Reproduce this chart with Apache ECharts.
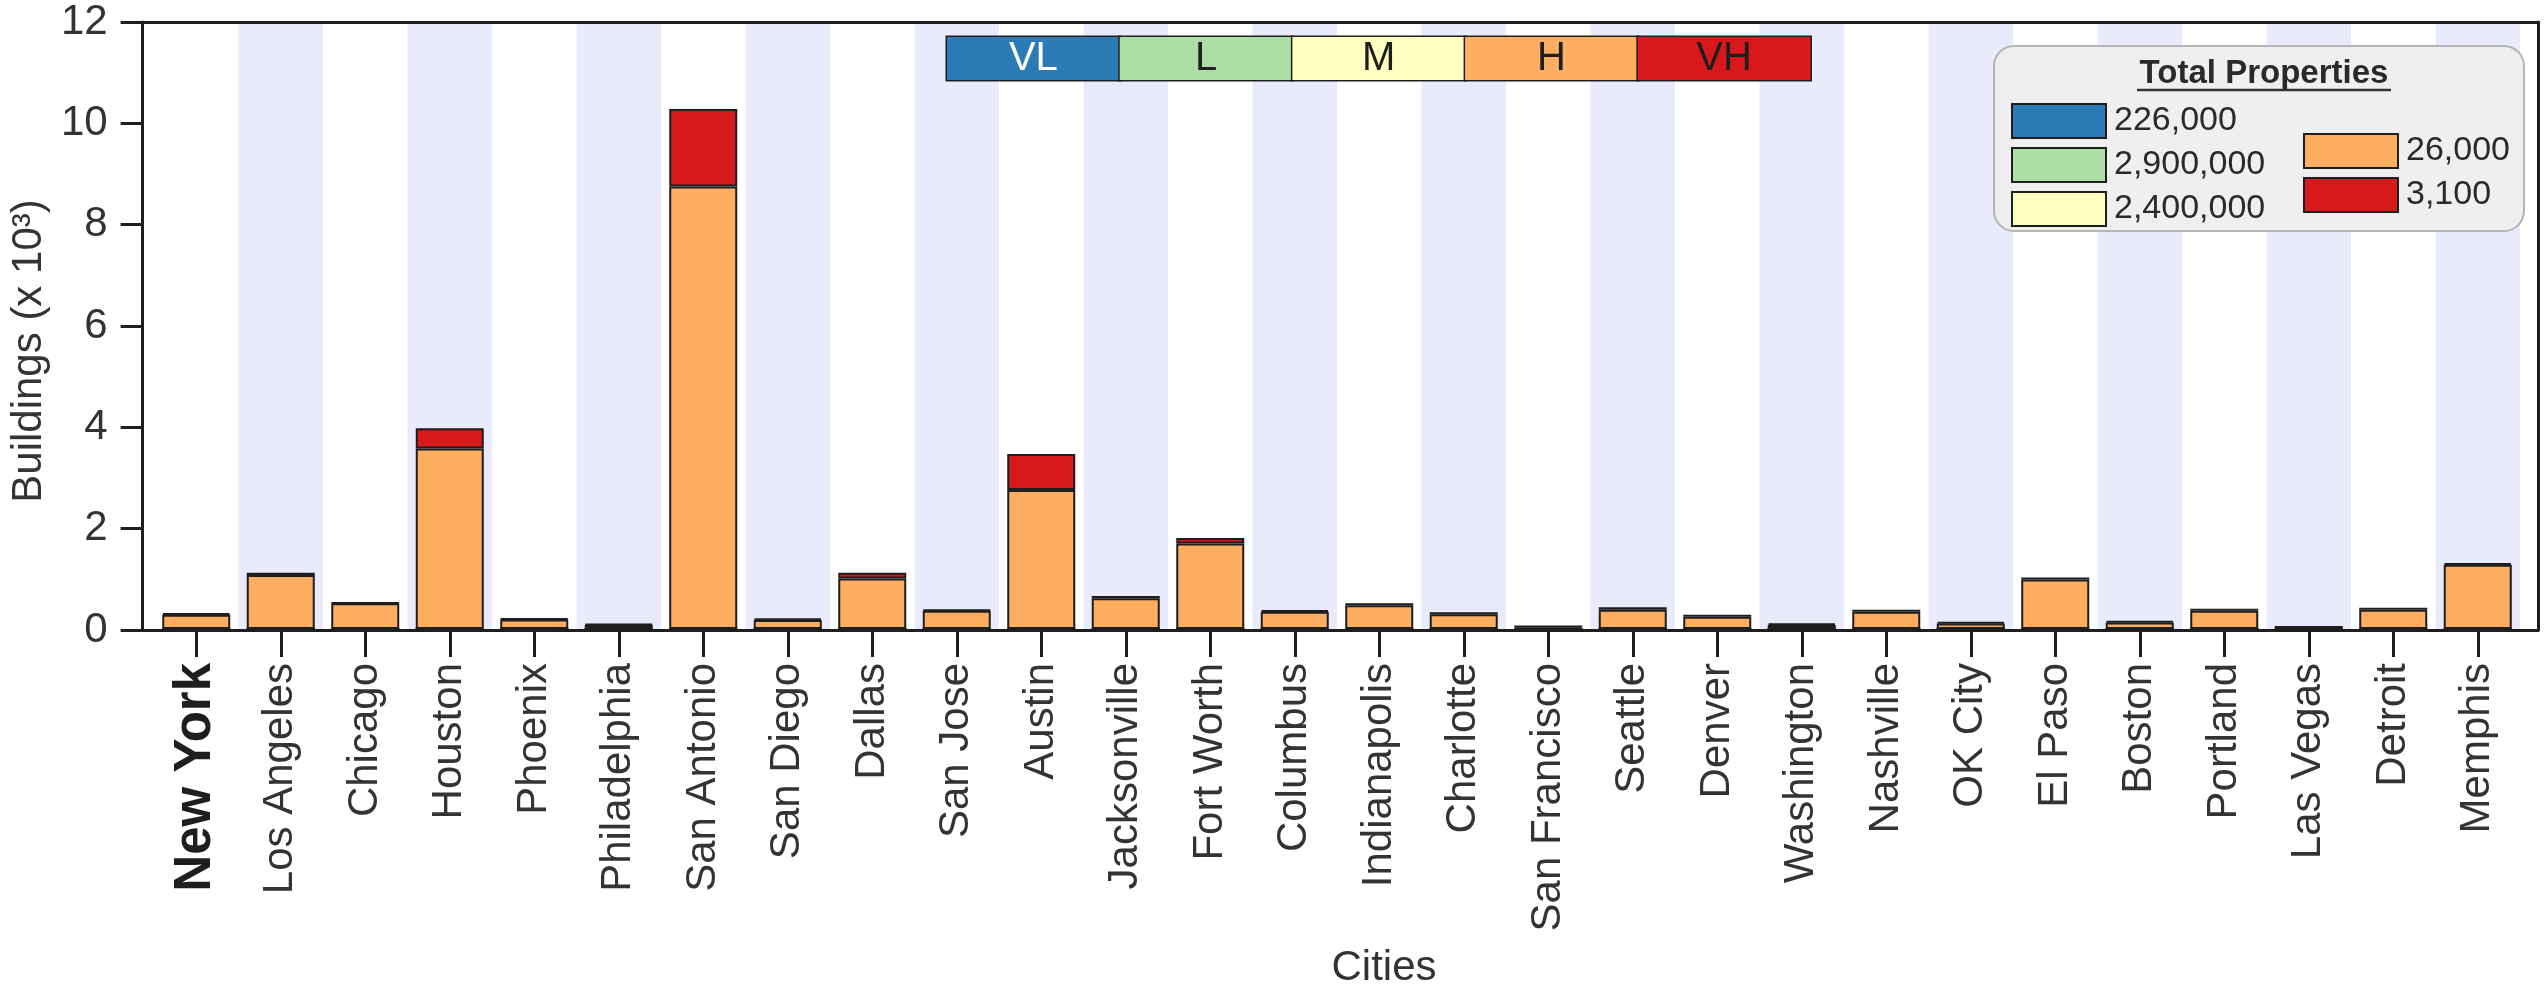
<!DOCTYPE html>
<html><head><meta charset="utf-8">
<script src="https://cdn.jsdelivr.net/npm/echarts@6/dist/echarts.min.js"></script>
<style>html,body{margin:0;padding:0;background:#fff}#c{width:2547px;height:994px}</style>
</head><body><div id="c"></div>
<script>
const cities = ['New York','Los Angeles','Chicago','Houston','Phoenix','Philadelphia','San Antonio','San Diego','Dallas','San Jose','Austin','Jacksonville','Fort Worth','Columbus','Indianapolis','Charlotte','San Francisco','Seattle','Denver','Washington','Nashville','OK City','El Paso','Boston','Portland','Las Vegas','Detroit','Memphis'];
const levels = ['VL','L','M','H','VH'];
const levelColors = ['#2c7bb6','#abdda4','#ffffbf','#fdae61','#d7191c'];
const levelTextColors = ['#ffffff','#1e1e1e','#1e1e1e','#1e1e1e','#1e1e1e'];
const totalProperties = ['226,000','2,900,000','2,400,000','26,000','3,100'];
// Buildings (x 10^3)
const valuesVL = [0,0,0,0,0,0,0,0,0,0,0,0,0,0,0,0,0,0,0,0,0,0,0,0,0,0,0,0];
const valuesL  = [0,0,0,0,0,0,0,0,0,0,0,0,0,0,0,0,0,0,0,0,0,0,0,0,0,0,0,0];
const valuesM  = [0,0,0,0,0,0,0,0,0,0,0,0,0,0,0,0,0,0,0,0,0,0,0,0,0,0,0,0];
const valuesH  = [0.28,1.07,0.51,3.57,0.19,0.08,8.75,0.18,1.00,0.36,2.75,0.61,1.69,0.34,0.47,0.29,0.03,0.38,0.24,0.08,0.34,0.11,0.98,0.13,0.36,0.02,0.38,1.27];
const valuesVH = [0.03,0.04,0.01,0.40,0.02,0.02,1.53,0.03,0.11,0.02,0.71,0.04,0.11,0.03,0.04,0.04,0.04,0.05,0.04,0.03,0.04,0.03,0.04,0.03,0.04,0.04,0.04,0.03];
const seriesValues = [valuesVL, valuesL, valuesM, valuesH, valuesVH];
const yMin = 0, yMax = 12, yStep = 2;

const FONT = '"Liberation Sans", Arial, Helvetica, sans-serif';
const TXT = '#333333';
const LINE = '#1e1e1e';

const chart = echarts.init(document.getElementById('c'), null, {renderer: 'canvas'});

const colorbarRich = {};
levels.forEach((l, i) => {
  colorbarRich['c' + i] = {
    width: 172.7, height: 43, lineHeight: 43, align: 'center', verticalAlign: 'middle',
    backgroundColor: levelColors[i], borderColor: LINE, borderWidth: 1.5,
    color: levelTextColors[i], fontSize: 40, fontWeight: 'normal',
    fontFamily: '"Liberation Sans Narrow", "Liberation Sans", Arial, sans-serif'
  };
});

function legendFmt(name) { return totalProperties[levels.indexOf(name)]; }
const legendBase = {
  orient: 'vertical', icon: 'rect', itemWidth: 94, itemHeight: 34, itemGap: 8,
  selectedMode: false, z: 8, padding: 0,
  itemStyle: {borderColor: LINE, borderWidth: 2},
  formatter: legendFmt,
  textStyle: {fontSize: 34, lineHeight: 34, color: '#2a2a2a', fontFamily: FONT, padding: [0, 0, 0, 3]}
};

const option = {
  animation: false,
  backgroundColor: '#ffffff',
  textStyle: {fontFamily: FONT},
  title: [
    {
      left: 947, top: 37, padding: 0,
      text: levels.map((l, i) => '{c' + i + '|' + l + '}').join(''),
      textStyle: {rich: colorbarRich, fontWeight: 'normal'}
    },
    {
      text: 'Total Properties', left: 2264, top: 57, padding: 0, textAlign: 'center', z: 8,
      textStyle: {fontSize: 33, fontWeight: 'bold', color: '#2a2a2a', fontFamily: FONT}
    }
  ],
  legend: [
    Object.assign({}, legendBase, {data: levels.slice(0, 3), left: 2011, top: 103}),
    Object.assign({}, legendBase, {data: levels.slice(3), left: 2303, top: 133})
  ],
  graphic: [
    {type: 'rect', z: 5, shape: {x: 1994, y: 46, width: 530, height: 185, r: 20},
     style: {fill: '#efefef', stroke: '#b5b5b5', lineWidth: 2}},
    {type: 'line', z: 9, shape: {x1: 2137, y1: 90, x2: 2391, y2: 90},
     style: {stroke: '#333', lineWidth: 2.5}}
  ],
  grid: [
    {left: 136, top: 22, width: 2402, height: 608, containLabel: false},
    {left: 154, top: 22, width: 2366, height: 608, containLabel: false}
  ],
  xAxis: [
    {gridIndex: 0, type: 'value', min: 0, max: 1, position: 'bottom', z: 10,
     axisLine: {show: true, onZero: false, lineStyle: {color: LINE, width: 3}},
     axisTick: {show: false}, axisLabel: {show: false}, splitLine: {show: false}},
    {gridIndex: 0, type: 'value', min: 0, max: 1, position: 'top', z: 10,
     axisLine: {show: true, onZero: false, lineStyle: {color: LINE, width: 3}},
     axisTick: {show: false}, axisLabel: {show: false}, splitLine: {show: false}},
    {gridIndex: 1, type: 'category', data: cities, position: 'bottom',
     axisLine: {show: false},
     axisTick: {show: true, alignWithLabel: true, length: 28, lineStyle: {color: LINE, width: 3}},
     axisLabel: {
       interval: 0, rotate: 90, margin: 34, fontSize: 42, color: TXT, fontFamily: FONT,
       formatter: function (v, idx) { return idx === 0 ? '{b|' + v + '}' : v; },
       rich: {b: {fontSize: 51, fontWeight: 'bold', color: '#1e1e1e', fontFamily: FONT}}
     },
     splitLine: {show: false},
     splitArea: {show: true, areaStyle: {color: ['rgba(255,255,255,0)', '#e9eafb']}},
     name: 'Cities', nameLocation: 'middle', nameGap: 318,
     nameTextStyle: {fontSize: 42, color: TXT, fontFamily: FONT, padding: [0, 0, 0, 94]}}
  ],
  yAxis: [
    {gridIndex: 0, type: 'value', min: yMin, max: yMax, interval: yStep, position: 'left', z: 10,
     axisLine: {show: true, onZero: false, lineStyle: {color: LINE, width: 3}},
     axisTick: {show: true, length: 22, lineStyle: {color: LINE, width: 3}},
     axisLabel: {fontSize: 42, margin: 35, color: TXT, fontFamily: FONT},
     splitLine: {show: false},
     name: 'Buildings (x 10³)', nameLocation: 'middle', nameGap: 70, nameRotate: 90,
     nameTextStyle: {fontSize: 42, color: TXT, fontFamily: FONT, padding: [0, 50, 0, 0]}},
    {gridIndex: 0, type: 'value', min: yMin, max: yMax, position: 'right', z: 10,
     axisLine: {show: true, onZero: false, lineStyle: {color: LINE, width: 3}},
     axisTick: {show: false}, axisLabel: {show: false}, splitLine: {show: false}},
    {gridIndex: 1, type: 'value', min: yMin, max: yMax, show: false, splitLine: {show: false}}
  ],
  series: levels.map((l, i) => ({
    name: l, type: 'bar', stack: 'total', xAxisIndex: 2, yAxisIndex: 2,
    barWidth: 68, z: 2, silent: true,
    itemStyle: {color: levelColors[i], borderColor: LINE, borderWidth: 2},
    data: seriesValues[i]
  }))
};
chart.setOption(option);
</script>
</body></html>
